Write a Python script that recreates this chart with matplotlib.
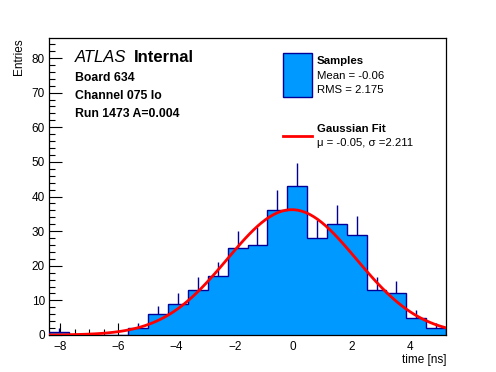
import numpy as np
import matplotlib
matplotlib.use("Agg")
import matplotlib.pyplot as plt
from matplotlib.ticker import MultipleLocator

plt.rcParams['font.family'] = ['Liberation Sans', 'DejaVu Sans']

# histogram: 20 bins between -8.38 and 5.24 ns
bin_lo, bin_hi = -8.38, 5.24
counts = [1, 0, 0, 0, 2, 6, 9, 13, 17, 25, 26, 36, 43, 28, 32, 29, 13, 12, 5, 2]

# gaussian fit parameters
fit_amp = 36.2
fit_mu = -0.05
fit_sigma = 2.211

counts = np.array(counts, dtype=float)
edges = np.linspace(bin_lo, bin_hi, len(counts) + 1)
centers = 0.5 * (edges[:-1] + edges[1:])

fig = plt.figure(figsize=(4.96, 3.72), dpi=100)
ax = fig.add_axes([0.0988, 0.0995, 0.8004, 0.7985])

fill_col = '#0099ff'
line_col = '#000099'

# error bars first so the fill hides the lower half
nz = counts > 0
err = np.sqrt(counts[nz])
ax.vlines(centers[nz], counts[nz] - err, counts[nz] + err, color=line_col, lw=1, zorder=1)
ax.stairs(counts, edges, fill=True, color=fill_col, zorder=2)
ax.stairs(counts, edges, color=line_col, lw=1, baseline=0, zorder=3)

xf = np.linspace(bin_lo, bin_hi, 100)
yf = fit_amp * np.exp(-0.5 * ((xf - fit_mu) / fit_sigma) ** 2)
ax.plot(xf, yf, color='red', lw=2, zorder=4)

ax.set_xlim(bin_lo, bin_hi)
ax.set_ylim(0, 85.8)

ax.xaxis.set_major_locator(MultipleLocator(2))
ax.xaxis.set_minor_locator(MultipleLocator(0.5))
ax.yaxis.set_major_locator(MultipleLocator(10))
ax.yaxis.set_minor_locator(MultipleLocator(2))
ax.tick_params(which='both', direction='in', top=False, right=False, labelsize=8.5, width=0.8)
ax.tick_params(which='major', length=9)
ax.tick_params(which='minor', length=4.5)
ax.tick_params(axis='x', pad=4)
ax.tick_params(axis='y', pad=3)
for s in ax.spines.values():
    s.set_linewidth(0.9)

ax.set_xlabel('time [ns]', fontsize=8.5, loc='right', labelpad=1)
ax.set_ylabel('Entries', fontsize=8.5, loc='top', labelpad=5)

# ATLAS label block
fig.text(75 / 496, 1 - 58 / 372, 'ATLAS', fontsize=12, style='italic', va='center')
fig.text(134 / 496, 1 - 58 / 372, 'Internal', fontsize=12, weight='bold', va='center')
fig.text(75 / 496, 1 - 78 / 372, 'Board 634', fontsize=8.8, weight='bold', va='center')
fig.text(75 / 496, 1 - 96 / 372, 'Channel 075 lo', fontsize=8.8, weight='bold', va='center')
fig.text(75 / 496, 1 - 114 / 372, 'Run 1473 A=0.004', fontsize=8.8, weight='bold', va='center')

# legend
box = plt.Rectangle((283 / 496, 1 - 97 / 372), 29 / 496, 44 / 372, transform=fig.transFigure,
                    facecolor=fill_col, edgecolor=line_col, lw=1)
fig.add_artist(box)
fig.text(317 / 496, 1 - 61 / 372, 'Samples', fontsize=8.2, weight='bold', va='center')
fig.text(317 / 496, 1 - 76 / 372, 'Mean = -0.06', fontsize=8.2, va='center')
fig.text(317 / 496, 1 - 90 / 372, 'RMS = 2.175', fontsize=8.2, va='center')
fig.add_artist(plt.Line2D([283 / 496, 312 / 496], [1 - 136 / 372, 1 - 136 / 372],
                          transform=fig.transFigure, color='red', lw=2))
fig.text(317 / 496, 1 - 129 / 372, 'Gaussian Fit', fontsize=8.2, weight='bold', va='center')
fig.text(317 / 496, 1 - 143 / 372, 'μ = -0.05, σ =2.211', fontsize=8.2, va='center')

fig.savefig('out.png', dpi=100)
